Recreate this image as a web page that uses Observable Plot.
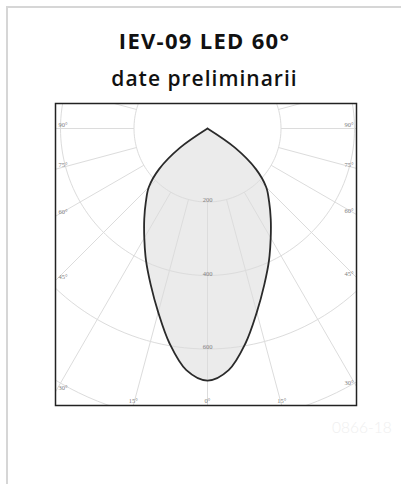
<!DOCTYPE html>
<html><head><meta charset="utf-8">
<script src="https://cdn.jsdelivr.net/npm/d3@7"></script>
<script src="https://cdn.jsdelivr.net/npm/@observablehq/plot@0.6"></script>
<style>
html,body{margin:0;padding:0;width:401px;height:484px;overflow:hidden;background:#fff;}
#card{position:absolute;left:6px;top:6px;width:600px;height:700px;border-top:2px solid #d6d6d6;border-left:2px solid #d6d6d6;box-sizing:border-box;}
.t{position:absolute;left:4px;width:401px;text-align:center;color:#111;font-family:"Open Sans",Lato,sans-serif;line-height:1;}
#t1{top:29px;font-size:22px;font-weight:700;letter-spacing:1.3px;}
#t2{top:68px;font-size:21px;font-weight:600;letter-spacing:1px;}
#wm{position:absolute;left:332px;top:418px;font-family:Lato,sans-serif;font-weight:300;font-size:15.5px;color:#efefef;}
#chart{position:absolute;left:0;top:97px;}
</style></head>
<body>
<div id="card"></div>
<div class="t" id="t1">IEV-09 LED 60°</div>
<div class="t" id="t2">date preliminarii</div>
<div id="wm">0866-18</div>
<div id="chart"></div>
<script>
// Luminous intensity (cd) vs angle from nadir (degrees), symmetric
const angles    = [0, 5, 10, 15, 20, 25, 30, 35, 40, 45, 50, 55, 60, 65, 70, 75, 80, 85, 90];
const intensity = [686, 660, 594, 518, 452, 396, 344, 300, 261, 226, 172, 92, 0, 0, 0, 0, 0, 0, 0];
const radii = [200, 400, 600, 800];
const radiusLabels = ["200", "400", "600"];
const spokeAngles = [-180, -165, -150, -135, -120, -105, -90, -75, -60, -45, -30, -15, 0, 15, 30, 45, 60, 75, 90, 105, 120, 135, 150, 165];
const sideAngles = [90, 75, 60, 45, 30];
const sideLabels = ["90°", "75°", "60°", "45°", "30°"];
const bottomAngles = [-15, 0, 15];
const bottomLabels = ["15°", "0°", "15°"];

const rad = d => d * Math.PI / 180;
const k = 0.3675; // px per cd
const xmin = (55 - 207) / k, xmax = (356 - 207) / k;
const ymin = (103 - 128) / k, ymax = (405 - 128) / k;

// curve polygon
const curve = [];
for (let i = angles.length - 1; i >= 0; i--) curve.push({x: -intensity[i] * Math.sin(rad(angles[i])), y: intensity[i] * Math.cos(rad(angles[i]))});
for (let i = 1; i < angles.length; i++) curve.push({x: intensity[i] * Math.sin(rad(angles[i])), y: intensity[i] * Math.cos(rad(angles[i]))});
curve.push(curve[0]);

const circles = [];
radii.forEach(r => { for (let a = 0; a <= 360; a += 2) circles.push({r, x: r * Math.sin(rad(a)), y: r * Math.cos(rad(a))}); });

const spokes = spokeAngles.map(a => ({x1: 200 * Math.sin(rad(a)), y1: 200 * Math.cos(rad(a)), x2: 1400 * Math.sin(rad(a)), y2: 1400 * Math.cos(rad(a))}));

const side = [];
sideAngles.forEach((a, i) => {
  const r = -xmin / Math.sin(rad(a));
  side.push({x: xmin, y: r * Math.cos(rad(a)), t: sideLabels[i], s: "L"});
  const r2 = xmax / Math.sin(rad(a));
  side.push({x: xmax, y: r2 * Math.cos(rad(a)), t: sideLabels[i], s: "R"});
});
const bottom = bottomAngles.map((a, i) => ({x: ymax * Math.tan(rad(a)), y: ymax, t: bottomLabels[i]}));
const rl = radiusLabels.map(t => ({x: 0, y: +t, t}));

const font = "Liberation Serif, serif";
const plot = Plot.plot({
  width: 401, height: 314,
  marginLeft: 55, marginRight: 45, marginTop: 6, marginBottom: 6,
  x: {domain: [xmin, xmax], axis: null},
  y: {domain: [ymin, ymax], reverse: true, axis: null},
  style: {background: "transparent"},
  marks: [
    Plot.line(curve, {x: "x", y: "y", fill: "#ebebeb", stroke: "none", curve: "catmull-rom"}),
    Plot.line(circles, {x: "x", y: "y", z: "r", stroke: "#dcdcdc", strokeWidth: 1, clip: "frame"}),
    Plot.link(spokes, {x1: "x1", y1: "y1", x2: "x2", y2: "y2", stroke: "#dcdcdc", strokeWidth: 1, clip: "frame"}),
    Plot.line(curve, {x: "x", y: "y", stroke: "#2a2a2a", strokeWidth: 1.8, curve: "catmull-rom"}),
    Plot.text(side.filter(d => d.s === "L"), {x: "x", y: "y", text: "t", textAnchor: "start", dx: 3, dy: -4, fontSize: 6.5, fill: "#808080", fontFamily: font}),
    Plot.text(side.filter(d => d.s === "R"), {x: "x", y: "y", text: "t", textAnchor: "end", dx: -3, dy: -4, fontSize: 6.5, fill: "#808080", fontFamily: font}),
    Plot.text(bottom, {x: "x", y: "y", text: "t", textAnchor: "middle", dy: -5, fontSize: 6.5, fill: "#808080", fontFamily: font}),
    Plot.text(rl, {x: "x", y: "y", text: "t", textAnchor: "middle", dy: -2, fontSize: 6.5, fill: "#808080", fontFamily: font}),
    Plot.frame({stroke: "#222", strokeWidth: 1.5})
  ]
});
document.getElementById("chart").appendChild(plot);
</script>
</body></html>
